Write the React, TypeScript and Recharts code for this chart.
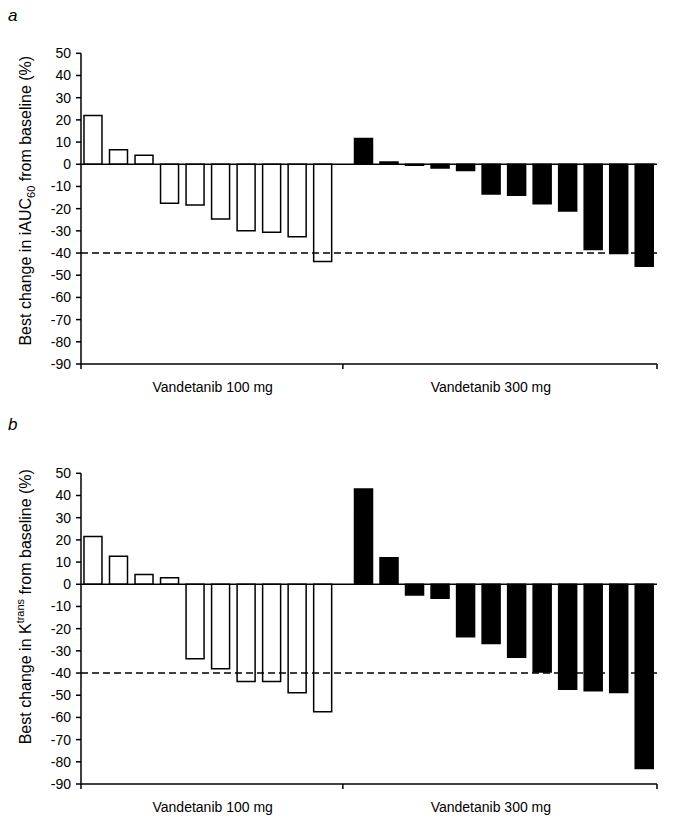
import React from 'react';
import { BarChart, Bar, XAxis, YAxis, ReferenceLine, Cell } from 'recharts';

// ---- data ----
const GROUPS = ['Vandetanib 100 mg', 'Vandetanib 300 mg'];
const IAUC_100 = [22.0, 6.5, 4.1, -17.6, -18.4, -24.7, -30.0, -30.6, -32.7, -43.8];
const IAUC_300 = [11.6, 1.0, -0.5, -1.7, -2.8, -13.4, -14.0, -17.8, -21.1, -38.4, -40.2, -45.9];
const KTRANS_100 = [21.5, 12.6, 4.4, 2.9, -33.6, -38.1, -43.8, -43.8, -48.9, -57.4];
const KTRANS_300 = [42.9, 11.9, -4.8, -6.3, -23.6, -26.7, -32.9, -39.5, -47.3, -48.0, -48.8, -83.0];
const Y_TICKS = [50, 40, 30, 20, 10, 0, -10, -20, -30, -40, -50, -60, -70, -80, -90];
const THRESHOLD = -40;

// ---- layout ----
const GROUP_GAP = 0.6;
const X_MIN = -0.46;
const X_MAX = 22.11;
const BOUNDARY = 9.8;
const GROUP_LABEL_POS = [4.7, 15.6];
const X_TICKS = [X_MIN, GROUP_LABEL_POS[0], BOUNDARY, GROUP_LABEL_POS[1], X_MAX];
const CHART_W = 685;
const CHART_H = 410;
const FONT = '"Liberation Sans", Arial, Helvetica, sans-serif';

type Row = { pos: number; value: number; group: number };

function buildRows(g1: number[], g2: number[]): Row[] {
  return [
    ...g1.map((v, i) => ({ pos: i, value: v, group: 0 })),
    ...g2.map((v, j) => ({ pos: g1.length + GROUP_GAP + j, value: v, group: 1 })),
  ];
}

function XTick(props: any) {
  const { x, y, payload } = props;
  const v = payload.value;
  const li = GROUP_LABEL_POS.indexOf(v);
  if (li >= 0) {
    return (
      <text x={x} y={y + 22.5} textAnchor="middle" fontSize={14} fill="#000" fontFamily={FONT}>
        {GROUPS[li]}
      </text>
    );
  }
  return <line x1={x} y1={y - 5} x2={x} y2={y} stroke="#000" strokeWidth={1.5} />;
}

function YLabel({ kind, cy }: { kind: 'a' | 'b'; cy: number }) {
  const x = 31;
  return (
    <text
      x={x}
      y={cy}
      transform={`rotate(-90 ${x} ${cy})`}
      textAnchor="middle"
      fontSize={16}
      fill="#000"
      fontFamily={FONT}
    >
      {kind === 'a' ? (
        <>
          <tspan>Best change in iAUC</tspan>
          <tspan dy={4} fontSize={11}>60</tspan>
          <tspan dy={-4}> from baseline (%)</tspan>
        </>
      ) : (
        <>
          <tspan>Best change in K</tspan>
          <tspan dy={-7} fontSize={11}>trans</tspan>
          <tspan dy={7}> from baseline (%)</tspan>
        </>
      )}
    </text>
  );
}

function Panel({
  top,
  kind,
  g1,
  g2,
  labelCy,
  letterY,
}: {
  top: number;
  kind: 'a' | 'b';
  g1: number[];
  g2: number[];
  labelCy: number;
  letterY: number;
}) {
  const rows = buildRows(g1, g2);
  return (
    <div style={{ position: 'absolute', left: 0, top, width: CHART_W, height: CHART_H }}>
      <svg
        width={30}
        height={30}
        style={{ position: 'absolute', left: 0, top: 0, overflow: 'visible' }}
      >
        <text x={8} y={letterY} fontSize={17} fontStyle="italic" fill="#000" fontFamily={FONT}>
          {kind}
        </text>
      </svg>
      <BarChart
        width={CHART_W}
        height={CHART_H}
        data={rows}
        margin={{ top: 53.3, right: 28, bottom: 11, left: 0 }}
        style={{ position: 'absolute', left: 0, top: 0 }}
      >
        <XAxis
          type="number"
          dataKey="pos"
          domain={[X_MIN, X_MAX]}
          allowDataOverflow
          ticks={X_TICKS}
          interval={0}
          tick={<XTick />}
          tickLine={false}
          tickSize={5}
          tickMargin={0}
          height={35}
          axisLine={{ stroke: '#000', strokeWidth: 1.5 }}
        />
        <YAxis
          type="number"
          domain={[-90, 50]}
          ticks={Y_TICKS}
          interval={0}
          allowDataOverflow
          width={81}
          tickSize={5}
          tickMargin={5}
          axisLine={{ stroke: '#000', strokeWidth: 1.5 }}
          tickLine={{ stroke: '#000', strokeWidth: 1.5 }}
          tick={{ fill: '#000', fontSize: 14, fontFamily: FONT }}
          label={{ content: () => <YLabel kind={kind} cy={labelCy} /> }}
        />
        <Bar
          dataKey="value"
          barSize={18}
          stroke="#000"
          strokeWidth={1.5}
          isAnimationActive={false}
        >
          {rows.map((r, i) => (
            <Cell key={i} fill={r.group === 0 ? '#fff' : '#000'} />
          ))}
        </Bar>
        <ReferenceLine y={0} stroke="#000" strokeWidth={1.5} />
        <ReferenceLine y={THRESHOLD} stroke="#000" strokeWidth={1.5} strokeDasharray="7 4" />
      </BarChart>
    </div>
  );
}

export default function App() {
  return (
    <div
      style={{
        position: 'relative',
        width: 685,
        height: 832,
        background: '#fff',
        fontFamily: FONT,
        overflow: 'hidden',
      }}
    >
      <style>{`body{margin:0;}`}</style>
      <Panel top={0} kind="a" g1={IAUC_100} g2={IAUC_300} labelCy={200.7} letterY={20.5} />
      <Panel top={420} kind="b" g1={KTRANS_100} g2={KTRANS_300} labelCy={186.7} letterY={10} />
    </div>
  );
}
